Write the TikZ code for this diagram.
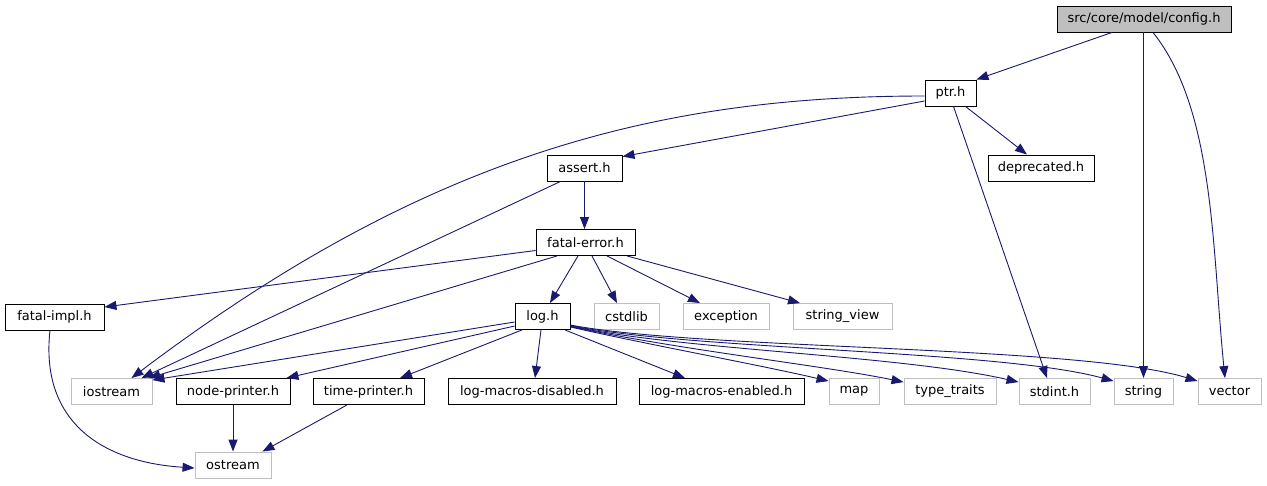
\documentclass[tikz,border=0pt]{standalone}
\usepackage{fontspec}
\setmainfont{DejaVu Sans}
\usetikzlibrary{arrows.meta}
\definecolor{edgeblue}{RGB}{25,25,112}
\definecolor{sysgray}{RGB}{191,191,191}

\begin{document}
\begin{tikzpicture}[
        -{Triangle[length=12pt,width=9pt]},
        color=edgeblue,
        line width=0.9pt,
        every node/.style={font=\fontsize{13}{15}\selectfont, text=black, minimum height=26pt, inner sep=0pt},
        file/.style={draw=black, fill=white},
        sysfile/.style={draw=sysgray, fill=white},
        root/.style={draw=black, fill=sysgray},
        x=1pt,
        y=-1pt
    ]
    \useasboundingbox (0,0) rectangle (1267,485);

    % first rows
    \node[root, minimum width=174pt] (config) at (1144,19) {src/core/model/config.h};
    \node[file, minimum width=51pt] (ptr) at (950.5,93) {ptr.h};
    \node[file, minimum width=75pt] (assert) at (584.5,168) {assert.h};
    \node[file, minimum width=106pt] (deprecated) at (1041,168) {deprecated.h};
    \node[file, minimum width=99pt] (fatalerror) at (585.5,242.5) {fatal-error.h};

    % middle row
    \node[file, minimum width=99pt] (fatalimpl) at (54.5,317) {fatal-impl.h};
    \node[file, minimum width=55pt] (log) at (542.5,316.5) {log.h};
    \node[sysfile, minimum width=65pt] (cstdlib) at (626.5,316.5) {cstdlib};
    \node[sysfile, minimum width=86pt] (exception) at (726,316.5) {exception};
    \node[sysfile, minimum width=99pt] (stringview) at (842.5,316.5) {string\_view};

    % bottom rows
    \node[sysfile, minimum width=81pt] (iostream) at (111.5,391.5) {iostream};
    \node[file, minimum width=114pt] (nodeprinter) at (233,391.5) {node-printer.h};
    \node[file, minimum width=111pt] (timeprinter) at (368.5,391.5) {time-printer.h};
    \node[file, minimum width=168pt] (macrosoff) at (532,391.5) {log-macros-disabled.h};
    \node[file, minimum width=165pt] (macroson) at (721.5,391.5) {log-macros-enabled.h};
    \node[sysfile, minimum width=50pt] (map) at (854,391.5) {map};
    \node[sysfile, minimum width=92pt] (typetraits) at (950,391.5) {type\_traits};
    \node[sysfile, minimum width=71pt] (stdint) at (1054.5,391.5) {stdint.h};
    \node[sysfile, minimum width=59pt] (string) at (1143.5,391.5) {string};
    \node[sysfile, minimum width=63pt] (vector) at (1229.5,391.5) {vector};
    \node[sysfile, minimum width=76pt] (ostream) at (233,465) {ostream};

    % config.h
    \draw ([xshift=-32pt]config.south) -- (ptr.north east);
    \draw (string.north |- config.south) -- (string.north);
    \draw ([xshift=9pt]config.south) .. controls (1215,110) and (1212,250) .. ([xshift=-4.5pt]vector.north);

    % ptr.h
    \draw ([yshift=-3pt]ptr.west) .. controls (650,96) and (420,160) .. ([xshift=20pt]iostream.north);
    \draw ([yshift=-8pt]ptr.west) -- ([yshift=-2pt]assert.north east);
    \draw ([xshift=15pt]ptr.south) -- ([xshift=-14pt]deprecated.north);
    \draw ([xshift=3pt]ptr.south) -- ([xshift=-7.5pt]stdint.north);

    % assert.h
    \draw (assert.south) -- (assert.south |- fatalerror.north);
    \draw ([xshift=-24pt]assert.south) -- ([xshift=30pt]iostream.north);

    % fatal-error.h
    \draw ([yshift=-8pt]fatalerror.west) -- ([yshift=10pt]fatalimpl.east);
    \draw ([xshift=-28.5pt]fatalerror.south) -- ([xshift=-4pt]iostream.north east);
    \draw ([xshift=-7.5pt]fatalerror.south) -- ([xshift=7.5pt]log.north);
    \draw ([xshift=6.5pt]fatalerror.south) -- ([xshift=-9.5pt]cstdlib.north);
    \draw ([xshift=21.5pt]fatalerror.south) -- ([xshift=-26pt]exception.north);
    \draw ([xshift=41.5pt]fatalerror.south) -- ([xshift=-42.5pt]stringview.north);

    % fatal-impl.h
    \draw ([xshift=-4.5pt]fatalimpl.south) .. controls (40,420) and (100,462) .. ([yshift=-3pt]ostream.west);

    % log.h
    \draw ([yshift=-5.5pt]log.west) -- ([yshift=-2pt]iostream.north east);
    \draw ([yshift=-9.5pt]log.west) -- ([xshift=-4pt]nodeprinter.north east);
    \draw ([xshift=-20.5pt]log.south) -- ([xshift=31.5pt]timeprinter.north);
    \draw ([xshift=-1.5pt]log.south) -- ([xshift=3pt]macrosoff.north);
    \draw ([xshift=22.5pt]log.south) -- ([xshift=-36.5pt]macroson.north);
    \draw ([yshift=-10.5pt]log.east) .. controls (650,345) and (760,365) .. ([yshift=-3pt]map.north west);
    \draw ([yshift=-10pt]log.east) .. controls (680,350) and (820,365) .. ([yshift=-4pt]typetraits.north west);
    \draw ([yshift=-9.5pt]log.east) .. controls (680,350) and (900,355) .. ([yshift=-4pt]stdint.north west);
    \draw ([yshift=-9pt]log.east) .. controls (690,350) and (1000,350) .. ([yshift=-3pt]string.north west);
    \draw ([yshift=-8.5pt]log.east) .. controls (700,350) and (1080,345) .. ([yshift=-3pt]vector.north west);

    % node-printer.h, time-printer.h
    \draw (nodeprinter.south) -- (ostream.north);
    \draw ([xshift=-21.5pt]timeprinter.south) -- ([xshift=-9pt]ostream.north east);
\end{tikzpicture}
\end{document}
